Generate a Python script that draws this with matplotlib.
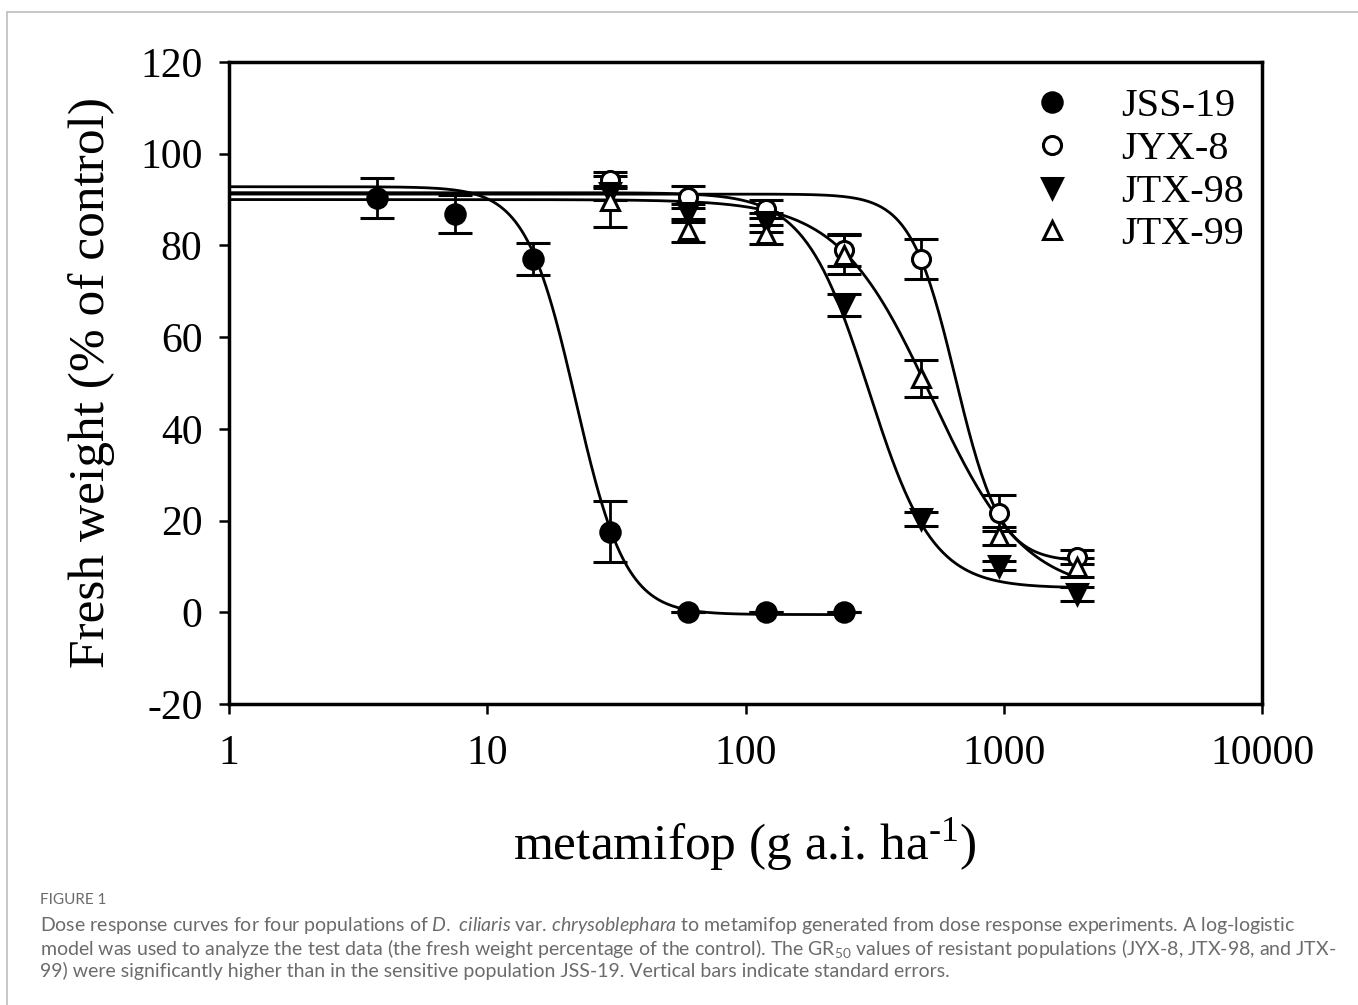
import numpy as np
import matplotlib
matplotlib.use('Agg')
import matplotlib.pyplot as plt
from matplotlib.patches import Rectangle

plt.rcParams['font.family'] = ['Liberation Serif', 'DejaVu Serif']
plt.rcParams['axes.unicode_minus'] = False
plt.rcParams['mathtext.fontset'] = 'custom'
plt.rcParams['mathtext.it'] = 'Lato:italic'
plt.rcParams['mathtext.rm'] = 'Liberation Serif'

# doses (g a.i. ha-1)
dose_sens = [3.75, 7.5, 15, 30, 60, 120, 240]
dose_res = [30, 60, 120, 240, 480, 960, 1920]

populations = ['JSS-19', 'JYX-8', 'JTX-98', 'JTX-99']

# fresh weight (% of control) and standard errors
jss19 = [90.3, 86.9, 77.0, 17.6, 0.0, 0.0, 0.0]
jss19_se = [4.4, 4.2, 3.5, 6.6, 0.0, 0.0, 0.0]
jyx8 = [94.3, 90.5, 88.0, 79.0, 77.0, 21.7, 12.0]
jyx8_se = [1.7, 2.4, 2.0, 3.5, 4.3, 3.9, 1.5]
jtx98 = [91.5, 87.0, 85.0, 67.0, 20.4, 10.2, 4.0]
jtx98_se = [1.5, 2.0, 2.0, 2.3, 1.5, 1.0, 1.5]
jtx99 = [89.6, 83.3, 82.4, 78.0, 51.0, 16.7, 9.8]
jtx99_se = [5.5, 2.5, 2.0, 4.2, 4.0, 2.0, 2.0]

# log-logistic fit parameters: upper, lower, GR50, slope
fit_upper = [92.8, 91.2, 91.5, 90.0]
fit_lower = [-0.5, 11.0, 5.3, 4.0]
fit_gr50 = [22.0, 650.0, 300.0, 524.0]
fit_slope = [4.5, 5.0, 3.5, 2.41]
fit_xmax = [240, 1920, 1920, 1920]

doses = [dose_sens, dose_res, dose_res, dose_res]
means = [jss19, jyx8, jtx98, jtx99]
errs = [jss19_se, jyx8_se, jtx98_se, jtx99_se]
markers = ['o', 'o', 'v', '^']
faces = ['black', 'white', 'black', 'white']
sizes = [14, 13, 14, 13]

fig = plt.figure(figsize=(13.58, 10.05), dpi=100)
ax = fig.add_axes([229/1358, 1-704/1005, 1033/1358, 642/1005])

handles = []
for i in range(4):
    xc = np.logspace(0, np.log10(fit_xmax[i]), 400)
    yc = fit_lower[i] + (fit_upper[i]-fit_lower[i]) / (1 + (xc/fit_gr50[i])**fit_slope[i])
    ax.plot(xc, yc, color='black', lw=2.0, zorder=2)
    eb = ax.errorbar(doses[i], means[i], yerr=errs[i], fmt=markers[i], ms=sizes[i],
                     mfc=faces[i], mec='black', mew=2.2, ecolor='black', elinewidth=2.0,
                     capsize=12, capthick=2.0, zorder=3)
    handles.append(eb[0])

ax.set_xscale('log')
ax.set_xlim(1, 10000)
ax.set_ylim(-20, 120)
ax.set_yticks(range(-20, 121, 20))
ax.set_xticks([1, 10, 100, 1000, 10000])
ax.set_xticklabels(['1', '10', '100', '1000', '10000'])
ax.minorticks_off()
ax.tick_params(direction='out', length=7, width=1.8, labelsize=30, pad=12)
ax.tick_params(axis='x', pad=15)
for s in ax.spines.values():
    s.set_linewidth(2.5)

leg = ax.legend(handles, populations, loc='upper left', bbox_to_anchor=(0.758, 0.985),
                frameon=False, fontsize=29, handlelength=1.2, handletextpad=1.1,
                labelspacing=0.14, borderaxespad=0)

fig.text(92/1358, 1-382/1005, 'Fresh weight (% of control)', rotation=90,
         ha='center', va='center', fontsize=37)
fig.text(745/1358, 1-845/1005, r'metamifop (g a.i. ha$^{\text{-1}}$)',
         ha='center', va='center', fontsize=37)

# frame around the figure panel
fig.patches.append(Rectangle((7/1358, -0.02), 1.02, 1.02-12/1005, transform=fig.transFigure,
                             fill=False, ec='#bdbdbd', lw=1.2))

cap = dict(family=['Lato', 'DejaVu Sans'], color='#6b6b6b', fontsize=14.0)
fig.text(40/1358, 1-900/1005, 'FIGURE 1', va='center', family=['Lato', 'DejaVu Sans'],
         color='#6b6b6b', fontsize=11)
lines = [
    r'Dose response curves for four populations of $\mathit{D.}$ $\mathit{ciliaris}$ var. $\mathit{chrysoblephara}$ to metamifop generated from dose response experiments. A log-logistic',
    r'model was used to analyze the test data (the fresh weight percentage of the control). The GR$\mathregular{_{50}}$ values of resistant populations (JYX-8, JTX-98, and JTX-',
    '99) were significantly higher than in the sensitive population JSS-19. Vertical bars indicate standard errors.',
]
for k, t in enumerate(lines):
    fig.text(40/1358, 1-(925+23*k)/1005, t, va='center', **cap)

fig.savefig('out.png', dpi=100)
